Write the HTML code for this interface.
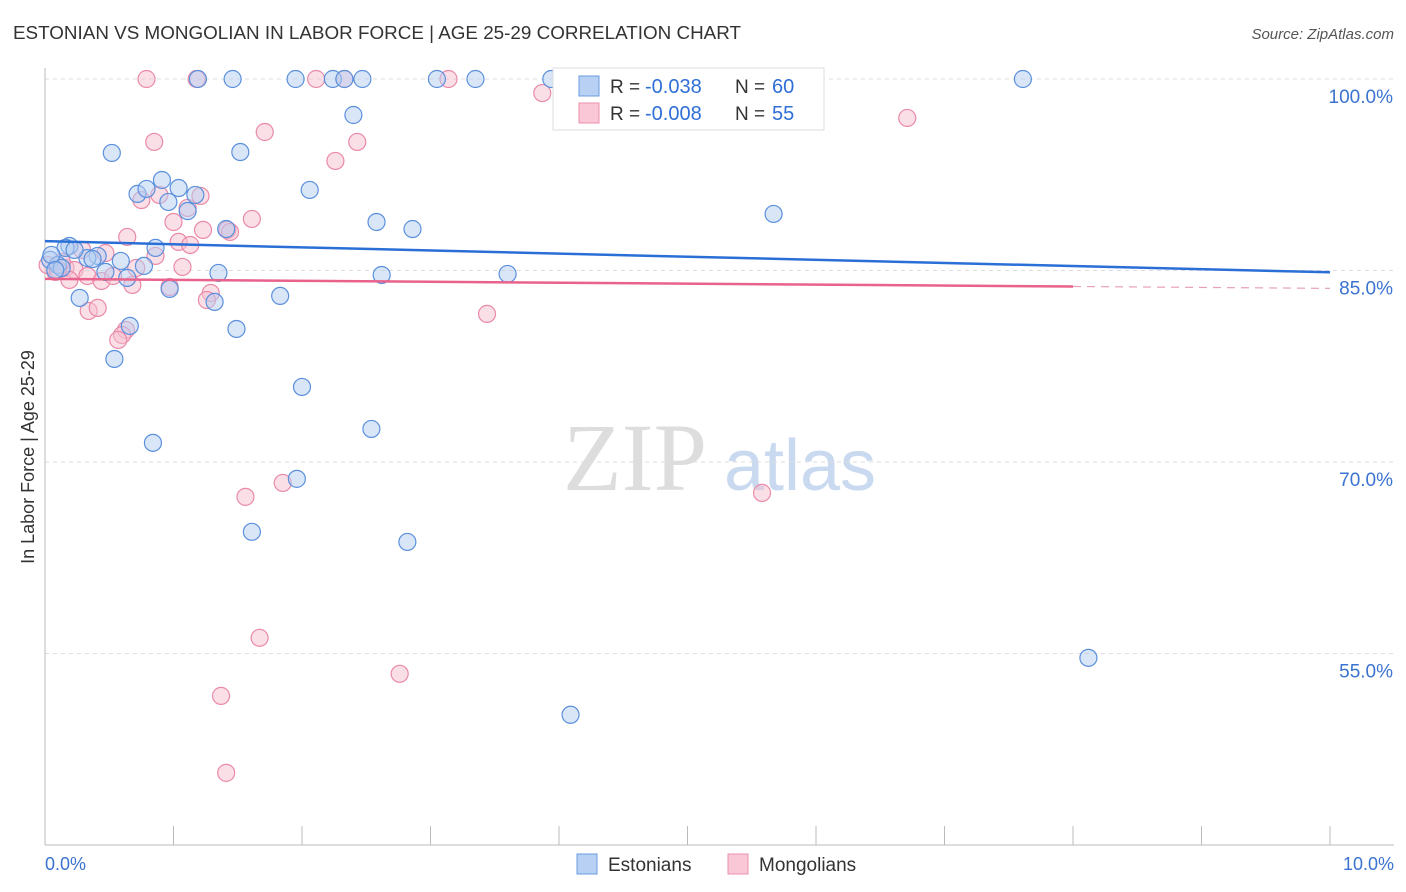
<!DOCTYPE html>
<html><head><meta charset="utf-8"><style>
body{margin:0;background:#fff;font-family:"Liberation Sans",sans-serif}
svg{display:block}
</style></head><body>
<svg width="1406" height="892">
<text x="13" y="39" font-size="18" fill="#333" textLength="728" lengthAdjust="spacingAndGlyphs">ESTONIAN VS MONGOLIAN IN LABOR FORCE | AGE 25-29 CORRELATION CHART</text>
<text x="1394" y="39" font-size="15" fill="#555" font-style="italic" text-anchor="end">Source: ZipAtlas.com</text>
<text x="0" y="0" transform="translate(34,457) rotate(-90)" font-size="18" fill="#333" text-anchor="middle">In Labor Force | Age 25-29</text>
<g><text x="635" y="490" font-size="96" font-family="Liberation Serif,serif" fill="#ddd" text-anchor="middle">ZIP</text><text x="800" y="490" font-size="72" fill="#c9d9ef" text-anchor="middle">atlas</text></g>
<g id="grid"></g><g id="axes"></g><g id="marks"></g>
<g>
<rect x="553" y="68" width="271" height="62" fill="#fff" stroke="#ddd"/>
<rect x="579" y="76" width="20" height="20" fill="#b8d0f3" stroke="#6a9be0"/>
<rect x="579" y="103" width="20" height="20" fill="#f9c7d6" stroke="#ec8fab"/>
<text x="610" y="93" font-size="19" fill="#333">R =</text>
<text x="645" y="93" font-size="20" fill="#2f6fd6">-0.038</text>
<text x="735" y="93" font-size="19" fill="#333">N =</text>
<text x="772" y="93" font-size="20" fill="#2f6fd6">60</text>
<text x="610" y="120" font-size="19" fill="#333">R =</text>
<text x="645" y="120" font-size="20" fill="#2f6fd6">-0.008</text>
<text x="735" y="120" font-size="19" fill="#333">N =</text>
<text x="772" y="120" font-size="20" fill="#2f6fd6">55</text>
</g>
<g>
<rect x="577" y="854" width="20" height="20" fill="#b8d0f3" stroke="#6a9be0"/>
<text x="608" y="871" font-size="19" fill="#333">Estonians</text>
<rect x="728" y="854" width="20" height="20" fill="#f9c7d6" stroke="#ec8fab"/>
<text x="759" y="871" font-size="19" fill="#333">Mongolians</text>
</g>
</svg>
<script>
const yTicks=[100,85,70,55];
const xTickLabels=["0.0%","10.0%"];
const blueX=[1.19,1.46,1.95,2.24,2.33,2.47,3.05,3.35,3.94,5.58,7.61,2.40,0.52,1.52,0.72,0.79,0.91,1.04,0.96,1.17,1.11,2.06,2.58,2.86,5.67,1.41,0.86,0.19,0.41,0.59,0.77,0.47,0.64,1.35,2.62,3.6,0.27,0.97,1.32,1.83,1.49,0.66,0.54,2.0,0.84,2.54,1.96,1.61,2.82,8.12,4.09,0.04,0.10,0.13,0.33,0.16,0.05,0.08,0.37,0.23];
const blueY=[100,100,100,100,100,100,100,100,100,100,100,97.18,94.21,94.28,91.0,91.39,92.09,91.46,90.37,90.92,89.66,91.31,88.8,88.25,89.43,88.25,86.77,86.92,86.14,85.75,85.36,84.89,84.42,84.81,84.65,84.73,82.85,83.56,82.54,83.01,80.42,80.66,78.07,75.88,71.5,72.59,68.68,64.53,63.74,54.66,50.2,85.83,85.43,85.2,85.98,86.77,86.22,85.04,85.9,86.61];
const pinkX=[0.79,1.18,2.11,2.33,3.14,3.87,6.71,1.71,0.85,2.43,2.26,0.75,0.89,1.11,1.21,1.61,1.0,1.23,0.64,1.42,1.04,0.86,0.47,0.29,1.07,0.71,0.16,0.23,0.33,0.44,0.53,0.08,0.97,1.29,1.26,0.34,0.41,3.44,0.63,0.60,0.57,5.58,1.56,1.85,1.67,2.76,1.37,1.41,0.13,0.02,0.19,0.10,0.68,1.44,1.13];
const pinkY=[100,100,100,100,100,98.9,96.95,95.85,95.07,95.07,93.58,90.52,90.92,89.9,90.84,89.04,88.8,88.18,87.63,88.18,87.24,86.14,86.37,86.61,85.28,85.2,85.2,85.04,84.57,84.18,84.57,84.89,83.71,83.24,82.69,81.83,82.07,81.6,80.34,79.95,79.56,67.58,67.27,68.36,56.23,53.41,51.68,45.65,85.67,85.43,84.26,85.04,83.87,88.02,87.0];
const blueTrend=[87.3,84.86];
const pinkTrend=[84.34,83.6];
const L=45,R=1330,T=79;
const X=v=>L+v*(R-L)/10;
const Y=v=>T+(100-v)*(191.5/15);
const NS="http://www.w3.org/2000/svg";
function mk(t,a,p){const e=document.createElementNS(NS,t);for(const k in a)e.setAttribute(k,a[k]);p.appendChild(e);return e;}
const grid=document.getElementById('grid'),axes=document.getElementById('axes'),marks=document.getElementById('marks');
yTicks.forEach(v=>{
 const g=mk('line',{x1:L,x2:1394,y1:Y(v),y2:Y(v),stroke:'#ddd','stroke-dasharray':'4,4'},grid);
 
 
 const t=mk('text',{x:1393,y:Y(v)+24,'font-size':19,fill:'#3b73d1','text-anchor':'end'},grid);
 t.textContent=v.toFixed(1)+'%';
 
 
});
const ya=mk('line',{x1:L,x2:L,y1:68,y2:845,stroke:'#bbb'},axes);


const xa=mk('line',{x1:L,x2:1394,y1:845,y2:845,stroke:'#bbb'},axes);


for(let i=0;i<=10;i++){const tk=mk('line',{x1:X(i),x2:X(i),y1:826,y2:845,stroke:'#bbb'},axes);
 
 }
[[0,'start',X(0)],[1,'end',1394]].forEach(([i,a,x])=>{const t=mk('text',{x:x,y:870,'font-size':18,fill:'#3b73d1','text-anchor':a},axes);t.textContent=xTickLabels[i];
 
 });
function dots(xs,ys,fill,stroke,name){xs.forEach((x,i)=>{const c=mk('circle',{cx:X(x),cy:Y(ys[i]),r:8.5,fill:fill,'fill-opacity':0.5,stroke:stroke,'stroke-width':1.2},marks);
 
 });}
dots(pinkX,pinkY,'#f7bfd0','#ea8aa8','mongolian-point');
dots(blueX,blueY,'#b3cdf2','#5b90dd','estonian-point');
const bt=mk('line',{x1:X(0),x2:X(10),y1:Y(blueTrend[0]),y2:Y(blueTrend[1]),stroke:'#2a6fd6','stroke-width':2.5},marks);


const py=v=>pinkTrend[0]+(pinkTrend[1]-pinkTrend[0])*v/10;
const pt=mk('line',{x1:X(0),x2:X(8),y1:Y(py(0)),y2:Y(py(8)),stroke:'#e8628c','stroke-width':2.5},marks);


const pd=mk('line',{x1:X(8),x2:X(10),y1:Y(py(8)),y2:Y(py(10)),stroke:'#e8a0b6','stroke-width':1.2,'stroke-dasharray':'8,6'},marks);


</script>
</body></html>
